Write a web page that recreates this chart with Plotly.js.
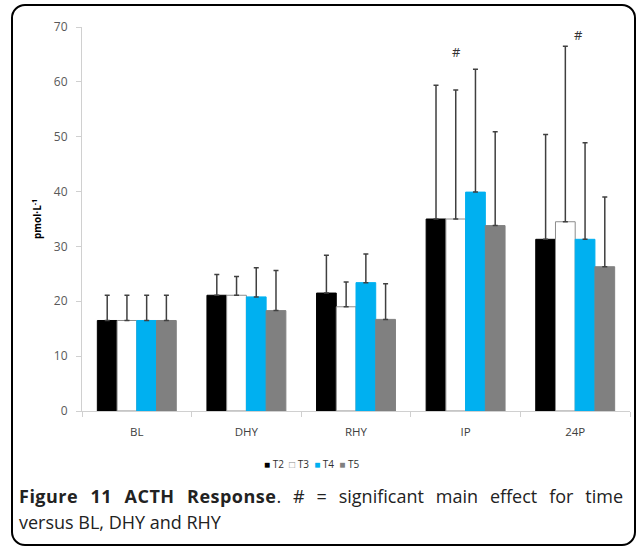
<!DOCTYPE html>
<html>
<head>
<meta charset="utf-8">
<script src="https://cdn.plot.ly/plotly-3.0.1.min.js"></script>
<style>
  html, body { margin:0; padding:0; background:#fff; }
  #wrap { position:relative; width:640px; height:552px; overflow:hidden; }
  #frame { position:absolute; left:11px; top:4px; width:621px; height:538px; border:2px solid #000; border-radius:14px; }
  #chart { position:absolute; left:0; top:0; width:640px; height:552px; }
  #caption { position:absolute; left:19px; top:483px; width:604px; font-family:"Open Sans", sans-serif; font-size:18px; line-height:26px; color:#222; }
  #caption .l1 { display:block; text-align:justify; text-align-last:justify; white-space:nowrap; }
  #caption b { letter-spacing:0.5px; }
</style>
</head>
<body>
<div id="wrap">
  <div id="frame"></div>
  <div id="chart"></div>
  <div id="caption"><span class="l1"><b>Figure 11 ACTH Response</b>. # = significant main effect for time</span>versus BL, DHY and RHY</div>
</div>
<script>
var categories = ["BL", "DHY", "RHY", "IP", "24P"];
var seriesNames = ["T2", "T3", "T4", "T5"];
var T2 = [16.5, 21.1, 21.5, 35.0, 31.3];
var T3 = [16.5, 21.1, 19.0, 35.0, 34.5];
var T4 = [16.5, 20.8, 23.4, 39.9, 31.3];
var T5 = [16.5, 18.3, 16.7, 33.8, 26.3];
var T2err = [4.6, 3.8, 6.9, 24.4, 19.1];
var T3err = [4.6, 3.4, 4.5, 23.5, 32.0];
var T4err = [4.6, 5.3, 5.2, 22.4, 17.6];
var T5err = [4.6, 7.3, 6.5, 17.1, 12.7];
var hashX = [2.92, 4.03];
var hashY = [65.4, 68.5];

var values = [T2, T3, T4, T5];
var errs = [T2err, T3err, T4err, T5err];
var fills = ["#000000", "#ffffff", "#00b0f0", "#808080"];
var outlines = ["#000000", "#8c8c8c", "#00b0f0", "#808080"];
var legendSym = ["■", "□", "■", "■"];
var legendSymColor = ["#000000", "#8c8c8c", "#00b0f0", "#808080"];

var traces = seriesNames.map(function(n, i) {
  return {
    type: "bar", name: n, x: categories, y: values[i],
    marker: { color: fills[i], line: { color: outlines[i], width: 1 } },
    error_y: { type: "data", symmetric: false, array: errs[i], arrayminus: errs[i].map(function(){return 0;}),
               color: "#404040", thickness: 1.5, width: 2.5 },
    showlegend: false, hoverinfo: "none"
  };
});

var legendText = seriesNames.map(function(n, i) {
  return "<span style='color:" + legendSymColor[i] + "'>" + legendSym[i] + "</span> " + n;
}).join("  ");

var annotations = hashX.map(function(x, i) {
  return { xref: "x", yref: "y", x: x, y: hashY[i], text: "#", showarrow: false,
           font: { family: "Open Sans, sans-serif", size: 13, color: "#333" } };
});
annotations.push({ xref: "paper", yref: "paper", x: 0.418, y: -0.139, xanchor: "center", yanchor: "middle",
  text: legendText, showarrow: false, font: { family: "Open Sans, sans-serif", size: 10, color: "#303030" } });

var layout = {
  width: 640, height: 552,
  margin: { l: 82, r: 10, t: 27, b: 141, pad: 0 },
  paper_bgcolor: "rgba(0,0,0,0)", plot_bgcolor: "rgba(0,0,0,0)",
  barmode: "group", bargap: 0.28, bargroupgap: 0,
  font: { family: "Open Sans, sans-serif", color: "#595959" },
  xaxis: { type: "category", showline: true, linecolor: "#d0d0d0", linewidth: 1,
           ticks: "outside", tickson: "boundaries", ticklen: 5, tickcolor: "#d0d0d0",
           tickfont: { size: 11.5, color: "#404040" }, ticklabelstandoff: 10, showgrid: false, zeroline: false },
  yaxis: { range: [0, 70], dtick: 10, showline: true, linecolor: "#d0d0d0", linewidth: 1,
           ticks: "outside", ticklen: 5, tickcolor: "#d0d0d0", showgrid: false, zeroline: false,
           tickfont: { size: 12, color: "#595959" }, ticklabelstandoff: 6,
           title: { text: "<b>pmol·L<sup>-1</sup></b>", font: { size: 10, color: "#000" }, standoff: 10 } },
  annotations: annotations
};

Plotly.newPlot("chart", traces, layout, { staticPlot: true, displayModeBar: false });
</script>
</body>
</html>
